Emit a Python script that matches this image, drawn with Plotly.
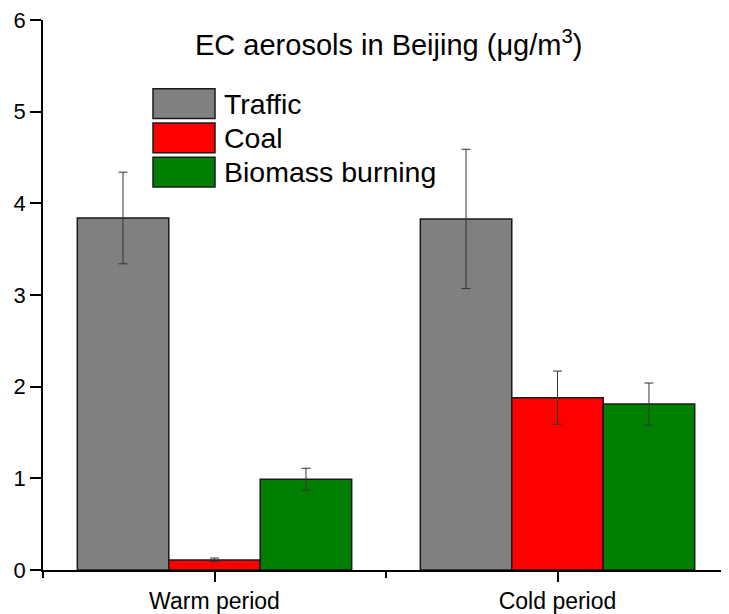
import plotly.graph_objects as go

categories = ["Warm period", "Cold period"]
series_names = ["Traffic", "Coal", "Biomass burning"]
traffic = [3.84, 3.83]
traffic_err = [0.50, 0.76]
coal = [0.11, 1.88]
coal_err = [0.02, 0.29]
biomass = [0.99, 1.81]
biomass_err = [0.12, 0.23]
colors = ["#808080", "#FF0000", "#007F00"]
y_ticks = [0, 1, 2, 3, 4, 5, 6]

values = [traffic, coal, biomass]
errors = [traffic_err, coal_err, biomass_err]
xpos = list(range(len(categories)))

FONT = "Liberation Sans, Arial, sans-serif"
OFF = 8  # page body margin
W, H = 729 - OFF, 614 - OFF
L, R, T, B = 43 - OFF, 0, 19 - OFF, 42
pw, ph = W - L - R, H - T - B

fig = go.Figure()
for name, v, e, c in zip(series_names, values, errors, colors):
    fig.add_trace(go.Bar(
        x=xpos, y=v, name=name,
        marker=dict(color=c, line=dict(color="#1a1a1a", width=1.5)),
        error_y=dict(type="data", array=e, visible=True, color="#333333",
                     thickness=1, width=4.5),
        showlegend=False,
    ))

# screen pixel -> paper coords
def px2x(p):
    return (p - OFF - L) / pw

def py2y(p):
    return (H - B - (p - OFF)) / ph

for i, (name, c) in enumerate(zip(series_names, colors)):
    top = 88 + 34.5 * i
    fig.add_shape(type="rect", xref="paper", yref="paper",
                  x0=px2x(153), x1=px2x(215), y0=py2y(top + 30), y1=py2y(top),
                  fillcolor=c, line=dict(color="#1a1a1a", width=1.5))
    fig.add_annotation(xref="paper", yref="paper", x=px2x(222), y=py2y(top + 15),
                       text=name, showarrow=False, xanchor="left", yanchor="middle",
                       font=dict(family=FONT, size=28.5, color="black"))

fig.add_annotation(xref="paper", yref="paper", x=px2x(388), y=py2y(42),
                   text="EC aerosols in Beijing (\u03bcg/m<sup>3</sup>)",
                   showarrow=False, xanchor="center", yanchor="middle",
                   font=dict(family=FONT, size=29, color="black"))

fig.update_layout(
    width=W, height=H,
    margin=dict(l=L, r=R, t=T, b=B),
    paper_bgcolor="white", plot_bgcolor="white",
    barmode="group", bargap=0.2, bargroupgap=0,
    font=dict(family=FONT, size=23, color="black"),
)
fig.update_xaxes(
    range=[-0.5, 1.5], tickmode="array", tickvals=xpos, ticktext=categories,
    showline=True, linecolor="black", linewidth=1.5,
    ticks="outside", ticklen=10, tickwidth=1.5, tickcolor="black",
    minor=dict(tickmode="array", tickvals=[-0.5, 0.5, 1.5], ticks="outside",
               ticklen=6, tickwidth=1.5, tickcolor="black"),
    showgrid=False, zeroline=False, ticklabeloverflow="allow",
    tickfont=dict(family=FONT, size=23, color="black"),
)
fig.update_yaxes(
    range=[0, 6], tickmode="array", tickvals=y_ticks,
    showline=True, linecolor="black", linewidth=1.5,
    ticks="outside", ticklen=11, tickwidth=1.5, tickcolor="black",
    showgrid=False, zeroline=False, ticklabeloverflow="allow",
    tickfont=dict(family=FONT, size=22, color="black"),
)

fig.write_html("out.html")
